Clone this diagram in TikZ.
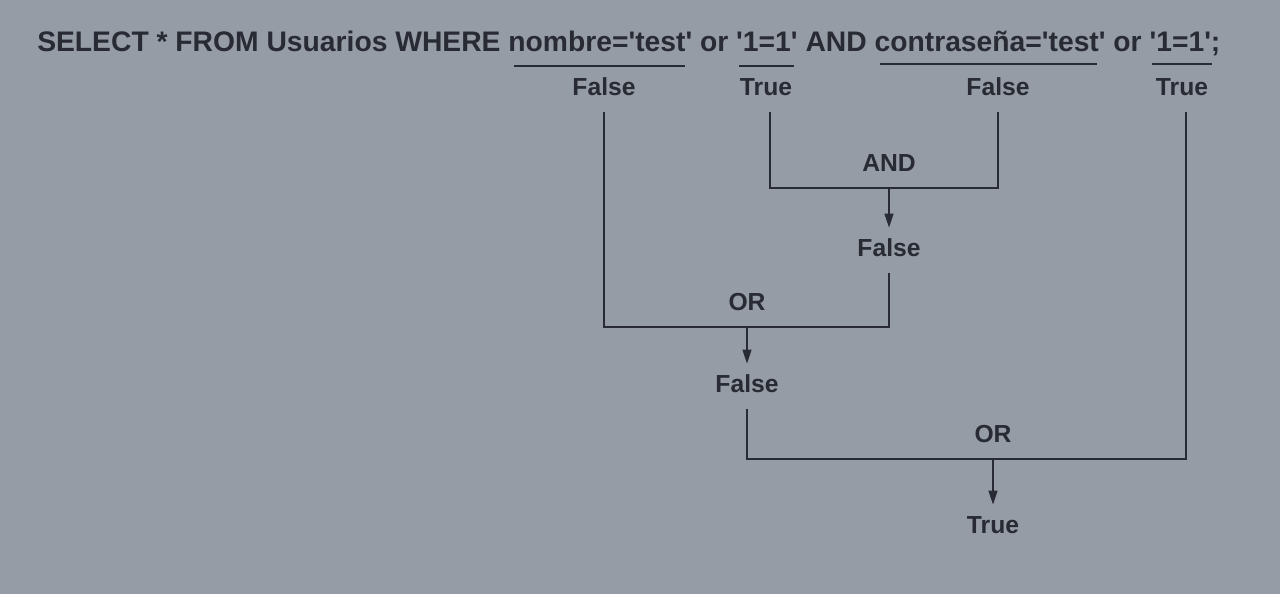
\documentclass[tikz,border=0pt]{standalone}
\usepackage{fontspec}
\setmainfont{Liberation Sans}[Ligatures=TeXOff]
\usetikzlibrary{arrows.meta}
\definecolor{fondo}{RGB}{150,156,166}
\definecolor{tinta}{RGB}{40,43,51}

\begin{document}
\begin{tikzpicture}[x=0.75pt,y=-0.75pt,
    valor/.style={font=\bfseries\fontsize{18.5}{22}\selectfont,text=tinta,
      minimum height=37.5pt,inner sep=0pt},
    oper/.style={valor},
    linea/.style={draw=tinta,line width=1.5pt},
    flecha/.style={linea,-{Triangle[length=10.5pt,width=6.5pt]},shorten >=-3.75pt}]
    \fill[fondo] (0,0) rectangle (1280,594);
    \useasboundingbox (0,0) rectangle (1280,594);

    \node[anchor=base west,inner sep=0pt,text=tinta,
      font=\bfseries\fontsize{21.2}{25}\selectfont] (consulta) at (37,51)
      {SELECT * FROM Usuarios WHERE nombre='test' or '1=1' AND contraseña='test' or '1=1';};
    \draw[linea] (514,66) -- (685,66);
    \draw[linea] (739,66) -- (794,66);
    \draw[linea] (880,64) -- (1097,64);
    \draw[linea] (1152,64) -- (1212,64);

    \node[valor] (f1) at (604,87) {False};
    \node[valor] (t1) at (766,87) {True};
    \node[valor] (f2) at (998,87) {False};
    \node[valor] (t2) at (1182,87) {True};
    \node[oper] (y1) at (889,163) {AND};
    \node[valor] (r1) at (889,248) {False};
    \node[oper] (o1) at (747,302) {OR};
    \node[valor] (r2) at (747,384) {False};
    \node[oper] (o2) at (993,434) {OR};
    \node[valor] (r3) at (993,525) {True};

    \draw[linea] ([xshift=3pt]t1.south) |- (y1.south) -| (f2.south);
    \draw[flecha] (y1.south) -- (r1.north);
    \draw[linea] (f1.south) |- (o1.south) -| (r1.south);
    \draw[flecha] (o1.south) -- (r2.north);
    \draw[linea] (r2.south) |- (o2.south) -| ([xshift=3pt]t2.south);
    \draw[flecha] (o2.south) -- (r3.north);
\end{tikzpicture}
\end{document}
